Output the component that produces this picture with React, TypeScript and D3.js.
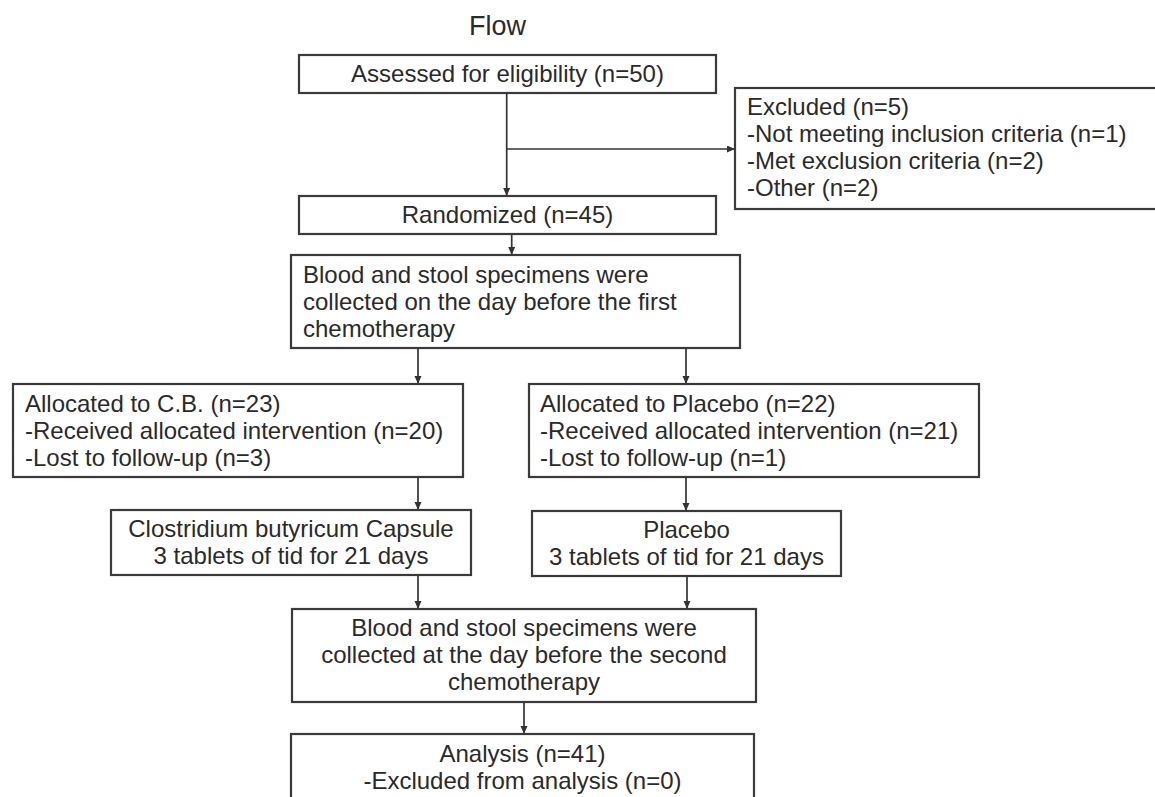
import React, { useEffect, useRef } from "react";
import * as d3 from "d3";

// ---- Content (text of each step) ----
const titleText = "Flow";
const assessedLines = ["Assessed for eligibility (n=50)"];
const excludedLines = [
  "Excluded (n=5)",
  "-Not meeting inclusion criteria (n=1)",
  "-Met exclusion criteria (n=2)",
  "-Other (n=2)",
];
const randomizedLines = ["Randomized (n=45)"];
const baselineLines = [
  "Blood and stool specimens were",
  "collected on the day before the first",
  "chemotherapy",
];
const cbLines = [
  "Allocated to C.B. (n=23)",
  "-Received allocated intervention (n=20)",
  "-Lost to follow-up (n=3)",
];
const placeboAllocLines = [
  "Allocated to Placebo (n=22)",
  "-Received allocated intervention (n=21)",
  "-Lost to follow-up (n=1)",
];
const cbTreatLines = ["Clostridium butyricum Capsule", "3 tablets of tid for 21 days"];
const placeboTreatLines = ["Placebo", "3 tablets of tid for 21 days"];
const secondLines = [
  "Blood and stool specimens were",
  "collected at the day before the second",
  "chemotherapy",
];
const analysisLines = ["Analysis (n=41)", "-Excluded from analysis (n=0)"];

// ---- Layout (pixel geometry) ----
type Box = { id: string; x0: number; y0: number; x1: number; y1: number; lines: string[]; align: "left" | "center"; first: number; pad?: number };
const boxes: Box[] = [
  { id: "assessed", x0: 299, y0: 55, x1: 716, y1: 93, lines: assessedLines, align: "center", first: 82 },
  { id: "excluded", x0: 735, y0: 88, x1: 1162, y1: 209, lines: excludedLines, align: "left", first: 115, pad: 12 },
  { id: "random", x0: 299, y0: 196, x1: 716, y1: 234, lines: randomizedLines, align: "center", first: 223 },
  { id: "base", x0: 291, y0: 255, x1: 740, y1: 348, lines: baselineLines, align: "left", first: 283, pad: 12 },
  { id: "cb", x0: 13, y0: 384, x1: 463, y1: 477, lines: cbLines, align: "left", first: 412, pad: 12 },
  { id: "pla", x0: 529, y0: 384, x1: 979, y1: 477, lines: placeboAllocLines, align: "left", first: 412, pad: 11 },
  { id: "cbt", x0: 111, y0: 510, x1: 471, y1: 575, lines: cbTreatLines, align: "center", first: 537 },
  { id: "plt", x0: 532, y0: 511, x1: 841, y1: 576, lines: placeboTreatLines, align: "center", first: 538 },
  { id: "second", x0: 292, y0: 609, x1: 756, y1: 702, lines: secondLines, align: "center", first: 636 },
  { id: "analysis", x0: 291, y0: 734, x1: 754, y1: 830, lines: analysisLines, align: "center", first: 762 },
];
const lineStep = 27;

const arrows: [number, number][][] = [
  [[506.7, 93], [506.7, 196]],
  [[506.7, 149], [735, 149]],
  [[511.7, 234], [511.7, 255]],
  [[418, 348], [418, 384]],
  [[686, 348], [686, 384]],
  [[418, 477], [418, 510]],
  [[686, 477], [686, 511]],
  [[418, 575], [418, 609]],
  [[687, 576], [687, 609]],
  [[524, 702], [524, 734]],
];

const W = 1155;
const H = 797;
const FONT = "'Liberation Sans', Arial, sans-serif";

export default function App() {
  const ref = useRef<SVGSVGElement | null>(null);

  useEffect(() => {
    const svg = d3.select(ref.current);
    svg.selectAll("*").remove();

    svg.append("rect").attr("width", W).attr("height", H).attr("fill", "#fff");

    const defs = svg.append("defs");
    defs
      .append("marker")
      .attr("id", "arrowHead")
      .attr("markerUnits", "userSpaceOnUse")
      .attr("markerWidth", 10)
      .attr("markerHeight", 8)
      .attr("refX", 8)
      .attr("refY", 3.5)
      .attr("orient", "auto")
      .append("path")
      .attr("d", "M0,0 L8,3.5 L0,7 Z")
      .attr("fill", "#333");

    svg
      .append("text")
      .attr("x", 497.5)
      .attr("y", 35)
      .attr("text-anchor", "middle")
      .attr("font-family", FONT)
      .attr("font-size", 27)
      .attr("fill", "#2a2a2a")
      .text(titleText);

    const line = d3.line<[number, number]>().x((d) => d[0]).y((d) => d[1]);
    svg
      .append("g")
      .selectAll("path")
      .data(arrows)
      .join("path")
      .attr("d", (d) => line(d) as string)
      .attr("stroke", "#333")
      .attr("stroke-width", 1.7)
      .attr("fill", "none")
      .attr("marker-end", "url(#arrowHead)");

    const g = svg.append("g").selectAll("g").data(boxes).join("g");
    g.append("rect")
      .attr("x", (d) => d.x0)
      .attr("y", (d) => d.y0)
      .attr("width", (d) => d.x1 - d.x0)
      .attr("height", (d) => d.y1 - d.y0)
      .attr("fill", "#fff")
      .attr("stroke", "#3a3a3a")
      .attr("stroke-width", 2.2);

    g.each(function (d) {
      const sel = d3.select(this);
      const tx = d.align === "center" ? (d.x0 + d.x1) / 2 : d.x0 + (d.pad ?? 12);
      const text = sel
        .append("text")
        .attr("x", tx)
        .attr("y", d.first)
        .attr("text-anchor", d.align === "center" ? "middle" : "start")
        .attr("font-family", FONT)
        .attr("font-size", 24)
        .attr("fill", "#2a2a2a");
      text
        .selectAll("tspan")
        .data(d.lines)
        .join("tspan")
        .attr("x", tx)
        .attr("y", (_, i) => d.first + i * lineStep)
        .text((t) => t);
    });
  }, []);

  return (
    <svg
      ref={ref}
      width={W}
      height={H}
      style={{ position: "absolute", left: 0, top: 0, display: "block" }}
    />
  );
}
